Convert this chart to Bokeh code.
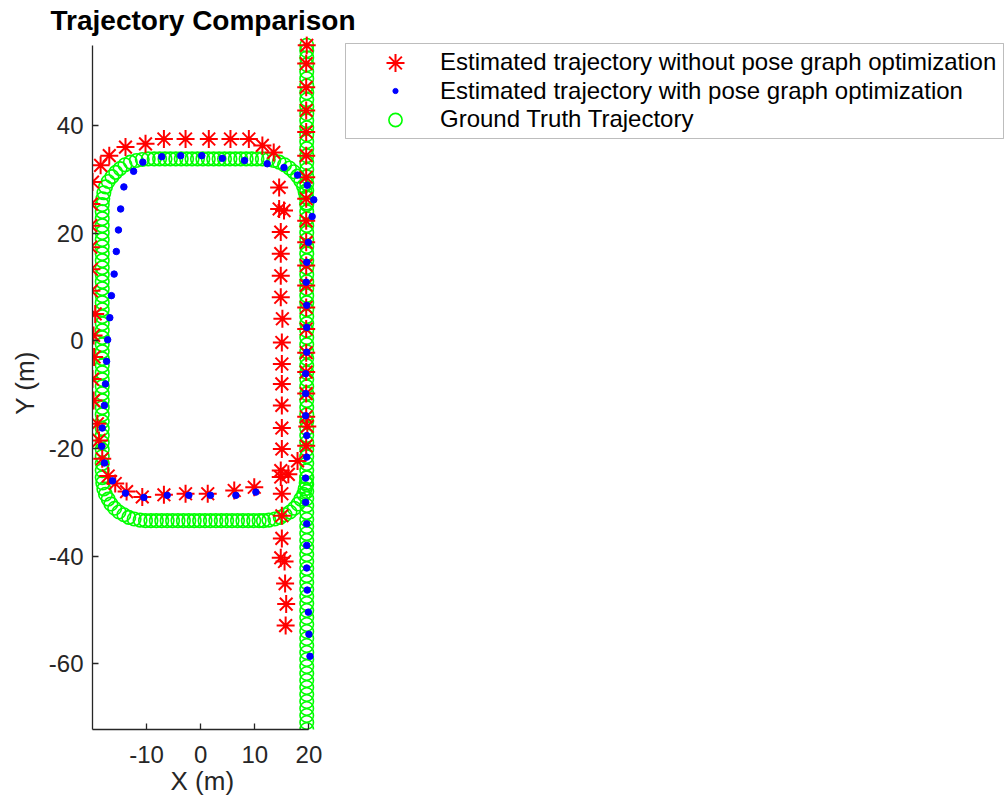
from bokeh.plotting import figure
from bokeh.models import Legend, LegendItem, FixedTicker, Range1d, BoxAnnotation, Title
from bokeh.embed import file_html
from bokeh.resources import INLINE

# ---------------- data (metres) ----------------
# Estimated trajectory without pose graph optimization (red stars)
red_x = [15.7, 15.8, 15.6, 15.5, 14.8, 15.0, 15.0, 15.0, 14.8, 15.0, 15.0, 15.0, 15.0, 15.0, 15.0,
         15.1, 14.8, 14.8, 14.8, 14.8, 14.5, 15.4, 14.5,
         13.5, 11.4, 8.9, 5.5, 1.5, -2.8, -6.8, -10.2, -13.9, -16.9, -18.5, -20.0,
         -20.2, -20.3, -20.3, -20.2, -20.2, -19.5, -19.8, -19.7, -20.0, -19.8, -19.1, -18.8, -18.2,
         -17.1, -15.8, -13.7,
         -10.8, -6.8, -2.8, 1.3, 6.2, 9.9,
         14.8, 16.2, 17.9, 19.5,
         19.7, 19.5, 19.5, 19.5, 19.5, 19.5, 19.5, 19.5, 19.5, 19.5, 19.5, 19.5, 19.5, 19.5,
         19.5, 19.5, 19.5, 19.5, 19.6]
red_y = [-52.9, -48.9, -45.1, -41.0, -40.3, -36.7, -32.5, -28.4, -24.1, -20.1, -16.2, -12.0, -8.0, -4.3, -0.3,
         4.1, 8.1, 12.1, 16.2, 20.2, 24.5, 24.2, 28.5,
         35.0, 36.3, 37.5, 37.5, 37.5, 37.5, 37.5, 36.6, 36.0, 34.4, 32.6, 29.5,
         25.4, 21.4, 17.4, 13.3, 9.3, 5.0, 1.0, -3.0, -7.1, -11.1, -15.4, -18.5, -21.9,
         -25.1, -26.5, -28.0,
         -29.0, -28.6, -28.4, -28.4, -27.8, -27.2,
         -25.3, -24.8, -22.3, -19.5,
         -15.9, -14.1, -9.8, -5.8, -2.2, 2.2, 6.2, 10.3, 14.0, 18.3, 22.3, 26.4, 30.4, 34.4,
         38.8, 42.8, 47.1, 51.5, 54.9]

# Estimated trajectory with pose graph optimization (blue dots)
blue_x = [20.2, 20.0, 19.9, 19.7, 19.6, 19.6, 19.6, 19.4, 19.4, 19.6, 19.6, 19.4, 19.4, 19.4,
          19.6, 19.6, 19.6, 19.5, 19.6, 19.9, 20.6, 20.9, 19.7, 17.9, 15.4, 12.3, 8.1, 4.0,
          0.2, -3.7, -7.2, -10.7, -12.4, -14.2, -14.8, -15.2, -15.6, -16.0, -16.5, -16.8, -17.2,
          -17.4, -17.6, -17.8, -18.2, -18.3, -17.8, -16.3, -13.9, -10.5, -6.2, -2.2, 1.8, 6.5, 10.2]
blue_y = [-58.6, -54.5, -50.4, -46.3, -42.2, -38.0, -34.0, -30.0, -25.5, -21.6, -17.6, -13.9, -9.8, -6.1,
          -2.1, 2.5, 6.6, 10.9, 14.6, 18.3, 23.1, 26.2, 28.9, 30.8, 32.2, 32.9, 33.5, 33.9,
          34.4, 34.4, 34.2, 33.2, 31.5, 28.6, 24.5, 20.6, 16.6, 12.4, 8.4, 4.3, 0.2,
          -3.8, -8.0, -12.0, -16.2, -19.6, -22.7, -26.0, -28.3, -29.1, -28.7, -28.7, -28.7, -28.7, -28.1]

# Ground truth trajectory (green circles): straight road at x = 19.6 ...
gt_road_x = 19.6
gt_road_y = [-72.2, -70.9, -69.6, -68.3, -67.0, -65.7, -64.4, -63.1, -61.8, -60.5, -59.2, -57.9, -56.6,
             -55.3, -54.0, -52.7, -51.4, -50.1, -48.8, -47.5, -46.2, -44.9, -43.6, -42.3, -41.0, -39.7,
             -38.4, -37.1, -35.8, -34.5, -33.2, -31.9, -30.6, -29.3, -28.0, -26.7, -25.4, -24.1, -22.8,
             -21.5, -20.2, -18.9, -17.6, -16.3, -15.0, -13.7, -12.4, -11.1, -9.8, -8.5, -7.2, -5.9,
             -4.6, -3.3, -2.0, -0.7, 0.6, 1.9, 3.2, 4.5, 5.8, 7.1, 8.4, 9.7, 11.0, 12.3, 13.6, 14.9,
             16.2, 17.5, 18.8, 20.1, 21.4, 22.7, 24.0, 25.3, 26.6, 27.9, 29.2, 30.5, 31.8, 33.1, 34.4,
             35.7, 37.0, 38.3, 39.6, 40.9, 42.2, 43.5, 44.8, 46.1, 47.4, 48.7, 50.0, 51.3, 52.6, 53.9, 54.9]
# ... and the loop
gt_loop_x = [19.6, 19.5, 19.3, 19.0, 18.5, 17.9, 17.2, 16.4, 15.5, 14.5, 13.5, 12.5, 11.4,
             10.4, 9.4, 8.4, 7.4, 6.4, 5.4, 4.4, 3.4, 2.4, 1.4, 0.4, -0.6, -1.6, -2.6, -3.6, -4.6,
             -5.6, -6.6, -7.6, -8.6,
             -9.7, -10.8, -11.9, -13.0, -14.0, -14.9, -15.7, -16.4, -17.1, -17.6, -17.9, -18.1, -18.2,
             -18.2, -18.2, -18.2, -18.2, -18.2, -18.2, -18.2, -18.2, -18.2, -18.2, -18.2, -18.2, -18.2,
             -18.2, -18.2, -18.2, -18.2, -18.2, -18.2, -18.2, -18.2, -18.2, -18.2, -18.2, -18.2, -18.2,
             -18.2, -18.2, -18.2, -18.2, -18.2, -18.2, -18.2, -18.2, -18.2, -18.2, -18.2, -18.2,
             -18.2, -18.1, -17.9, -17.6, -17.1, -16.6, -15.9, -15.1, -14.2, -13.3, -12.3, -11.2, -10.2,
             -9.2, -8.2, -7.2, -6.2, -5.2, -4.2, -3.2, -2.2, -1.2, -0.2, 0.8, 1.8, 2.8, 3.8, 4.8, 5.8,
             6.8, 7.8, 8.8, 9.8, 10.8,
             11.6, 12.6, 13.7, 14.7, 15.6, 16.5, 17.3, 18.0, 18.5, 19.0, 19.3, 19.5, 19.6]
gt_loop_y = [25.6, 26.7, 27.7, 28.7, 29.7, 30.6, 31.4, 32.1, 32.7, 33.2, 33.5, 33.7, 33.8,
             33.8, 33.8, 33.8, 33.8, 33.8, 33.8, 33.8, 33.8, 33.8, 33.8, 33.8, 33.8, 33.8, 33.8, 33.8,
             33.8, 33.8, 33.8, 33.8, 33.8,
             33.8, 33.7, 33.5, 33.2, 32.7, 32.0, 31.3, 30.5, 29.6, 28.6, 27.5, 26.4, 25.3,
             24.0, 22.7, 21.4, 20.1, 18.8, 17.5, 16.2, 14.9, 13.6, 12.3, 11.0, 9.7, 8.4,
             7.1, 5.8, 4.5, 3.2, 1.9, 0.6, -0.7, -2.0, -3.3, -4.6, -5.9, -7.2, -8.5,
             -9.8, -11.1, -12.4, -13.7, -15.0, -16.3, -17.6, -18.9, -20.2, -21.5, -22.8, -24.1,
             -25.4, -26.4, -27.5, -28.5, -29.4, -30.3, -31.1, -31.8, -32.3, -32.8, -33.1, -33.3, -33.4,
             -33.4, -33.4, -33.4, -33.4, -33.4, -33.4, -33.4, -33.4, -33.4, -33.4, -33.4, -33.4, -33.4,
             -33.4, -33.4, -33.4, -33.4, -33.4, -33.4, -33.4, -33.4,
             -33.4, -33.3, -33.1, -32.8, -32.3, -31.8, -31.1, -30.3, -29.4, -28.5, -27.5, -26.4, -25.4]

x_ticks = [-10, 0, 10, 20]
y_ticks = [-60, -40, -20, 0, 20, 40]
labels = ["Estimated trajectory without pose graph optimization",
          "Estimated trajectory with pose graph optimization",
          "Ground Truth Trajectory"]

gt_x = [gt_road_x] * len(gt_road_y) + gt_loop_x
gt_y = gt_road_y + gt_loop_y

# ---------------- figure ----------------
FONT = "Liberation Sans"
AX = "#262626"
W, H = 1005, 807
LEFT, TOP, BOTTOM = 92, 36, 78
PX = 5.41          # pixels per metre (x), equal-axis look
PY = 5.383         # pixels per metre (y)
x0, y0 = -20.0, -72.2
x1 = x0 + (W - LEFT) / PX
y1 = y0 + (H - TOP - BOTTOM) / PY
FRAME_BOTTOM = H - BOTTOM


def ux(px):   # page pixel -> data x (layout helper for the legend box)
    return x0 + (px - LEFT) / PX


def vy(py):   # page pixel -> data y
    return y0 + (FRAME_BOTTOM - py) / PY


p = figure(width=W, height=H,
           x_range=Range1d(x0, x1), y_range=Range1d(y0, y1),
           min_border_left=LEFT, min_border_right=0, min_border_top=TOP, min_border_bottom=BOTTOM,
           output_backend="svg", toolbar_location=None, title="Trajectory Comparison")

p.title.text_font = FONT
p.title.text_font_size = "28px"
p.title.text_font_style = "bold"
p.title.text_color = "#000000"
p.title.align = "left"
p.title.offset = -42
p.title.standoff = 2

p.xgrid.visible = False
p.ygrid.visible = False
p.outline_line_color = None
p.background_fill_color = "white"
p.border_fill_color = "white"

gt_r = p.scatter(gt_x, gt_y, marker="circle", size=13.5, fill_color=None,
                 line_color="#00FF00", line_width=1.6)
red_r = p.scatter(red_x, red_y, marker="asterisk", size=18, line_color="#FF0000", line_width=2)
blue_r = p.scatter(blue_x, blue_y, marker="circle", size=6.5, fill_color="#0000FF", line_color="#0000FF")

p.xaxis.ticker = FixedTicker(ticks=x_ticks)
p.yaxis.ticker = FixedTicker(ticks=y_ticks)
p.xaxis.major_label_overrides = {t: str(t) for t in x_ticks}
p.yaxis.major_label_overrides = {t: str(t) for t in y_ticks}
p.xaxis.bounds = (x0, 20)
p.yaxis.bounds = (y0, 54.9)
p.yaxis.axis_label = "Y (m)"
for ax in p.axis:
    ax.major_tick_in = 6
    ax.major_tick_out = 0
    ax.minor_tick_in = 0
    ax.minor_tick_out = 0
    ax.axis_line_color = AX
    ax.axis_line_width = 1.3
    ax.major_tick_line_color = AX
    ax.major_tick_line_width = 1.3
    ax.major_label_text_font = FONT
    ax.major_label_text_font_size = "24px"
    ax.major_label_text_color = AX
    ax.axis_label_text_font = FONT
    ax.axis_label_text_font_size = "26px"
    ax.axis_label_text_font_style = "normal"
    ax.axis_label_text_color = AX
p.xaxis.major_label_standoff = 16
p.yaxis.major_label_standoff = 9
p.yaxis.axis_label_standoff = 6

# x-axis title, centred under the axis line (not under the whole frame)
xlab = Title(text="X (m)", align="left", offset=78, standoff=0, vertical_align="top",
             text_font=FONT, text_font_size="26px", text_font_style="normal", text_color=AX)
p.add_layout(xlab, "below")

# legend: frame box + one row per series (each row sized to its own marker)
box = BoxAnnotation(left=ux(345), right=ux(1003), top=vy(43), bottom=vy(138),
                    fill_color="white", fill_alpha=1.0, line_color=AX, line_width=1, level="annotation")
p.add_layout(box)

row_centres = [62, 90.5, 119]
glyph_heights = [45, 13, 33]
for lab, rend, yc, gh in zip(labels, [red_r, blue_r, gt_r], row_centres, glyph_heights):
    h = max(29, gh)
    lg = Legend(items=[LegendItem(label=lab, renderers=[rend])],
                location=(350 - LEFT, (FRAME_BOTTOM - yc) - h / 2))
    lg.label_text_font = FONT
    lg.label_text_font_size = "24px"
    lg.label_text_color = "#000000"
    lg.border_line_color = None
    lg.background_fill_alpha = 0.0
    lg.padding = 0
    lg.spacing = 0
    lg.margin = 0
    lg.label_height = 29
    lg.glyph_height = gh
    lg.glyph_width = 90
    lg.label_standoff = 0
    p.add_layout(lg)

open("out.html", "w").write(file_html(p, INLINE))
